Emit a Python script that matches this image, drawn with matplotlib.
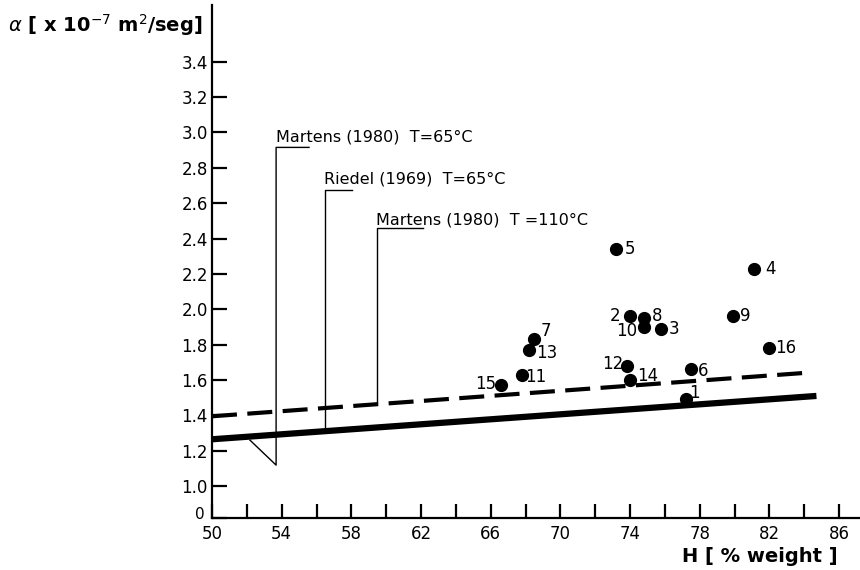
import matplotlib
matplotlib.use("Agg")
import matplotlib.pyplot as plt
import matplotlib.transforms as mtransforms

# ---- data ----
sample_ids = ["1", "2", "3", "4", "5", "6", "7", "8", "9", "10", "11", "12", "13", "14", "15", "16"]
moisture_h = [77.2, 74.0, 75.8, 81.1, 73.2, 77.5, 68.5, 74.8, 79.9, 74.8, 67.8, 73.8, 68.2, 74.0, 66.6, 82.0]
diffusivity = [1.49, 1.96, 1.89, 2.23, 2.34, 1.66, 1.83, 1.95, 1.96, 1.90, 1.63, 1.68, 1.77, 1.60, 1.57, 1.78]

# literature lines
martens110_x = [50.0, 84.0]
martens110_y = [1.395, 1.64]
martens65_x = [50.0, 84.7]
martens65_y = [1.265, 1.51]

x_major = [50, 54, 58, 62, 66, 70, 74, 78, 82, 86]
x_minor = [52, 56, 60, 64, 68, 72, 76, 80, 84]
y_ticks = [0.82, 1.0, 1.2, 1.4, 1.6, 1.8, 2.0, 2.2, 2.4, 2.6, 2.8, 3.0, 3.2, 3.4]
y_ticklabels = ["0", "1.0", "1.2", "1.4", "1.6", "1.8", "2.0", "2.2", "2.4", "2.6", "2.8", "3.0", "3.2", "3.4"]

# callouts: label, text anchor (x, baseline y), leader path
callout_labels = ["Martens (1980)  T=65°C", "Riedel (1969)  T=65°C", "Martens (1980)  T =110°C"]
callout_text_x = [53.68, 56.44, 59.43]
callout_text_y = [2.949, 2.710, 2.480]
callout_path_x = [[55.57, 53.68, 53.68, 52.18], [58.03, 56.49, 56.49], [62.13, 59.47, 59.47]]
callout_path_y = [[2.915, 2.915, 1.119, 1.26], [2.672, 2.672, 1.328], [2.458, 2.458, 1.469]]

# label offsets in pixels (style)
label_offsets = {
    "1": (9, 6), "2": (-15, 0), "3": (13, 0), "4": (17, 0), "5": (14, 0),
    "6": (12, -2), "7": (12, 8), "8": (13, 2), "9": (12, 0), "10": (-17, -4),
    "11": (14, -2), "12": (-14, 2), "13": (18, -3), "14": (18, 4), "15": (-15, 1),
    "16": (16, 0),
}

plt.rcParams["font.family"] = ["DejaVu Sans"]

fig = plt.figure(figsize=(8.6, 5.7), dpi=100)
ax = fig.add_axes([212 / 860, 52 / 570, 648 / 860, 513 / 570])
ax.set_xlim(50, 87.2)
ax.set_ylim(0.82, 3.72)

for s in ["top", "right"]:
    ax.spines[s].set_visible(False)
for s in ["left", "bottom"]:
    ax.spines[s].set_linewidth(1.6)
    ax.spines[s].set_color("black")

ax.set_xticks(x_major)
ax.set_xticks(x_minor, minor=True)
ax.set_xticklabels([str(v) for v in x_major], fontsize=12)
ax.set_yticks(y_ticks)
ax.set_yticklabels(y_ticklabels, fontsize=12)
ax.tick_params(axis="x", which="both", direction="in", length=10, width=1.6, pad=5)
ax.tick_params(axis="y", which="both", direction="in", length=11, width=1.6, pad=3)
ax.tick_params(axis="y", which="minor", left=False)

# nudge the "0" label up-left so it does not collide with "50"
zero_label = ax.get_yticklabels()[0]
zero_label.set_transform(zero_label.get_transform() +
                         mtransforms.ScaledTranslation(-3 / 100, 5 / 100, fig.dpi_scale_trans))
zero_label.set_fontsize(11)

# lines
ax.plot(martens110_x, martens110_y, color="black", lw=3.0, dashes=(6, 2.5), solid_capstyle="butt")
ax.plot(martens65_x, martens65_y, color="black", lw=4.5, solid_capstyle="butt")

# callouts
for lab, tx, ty, px, py in zip(callout_labels, callout_text_x, callout_text_y, callout_path_x, callout_path_y):
    ax.plot(px, py, color="black", lw=1.0)
    ax.text(tx, ty, lab, fontsize=11.5, ha="left", va="baseline")

# points
ax.plot(moisture_h, diffusivity, "o", color="black", markersize=8.5, linestyle="none")
for sid, hx, ay in zip(sample_ids, moisture_h, diffusivity):
    dx, dy = label_offsets[sid]
    ax.annotate(sid, (hx, ay), xytext=(dx, dy), textcoords="offset pixels",
                ha="center", va="center", fontsize=12)

# axis titles
fig.text(8 / 860, 1 - 25 / 570, r"$\alpha$ [ x 10$^{-7}$ m$^{2}$/seg]", fontsize=14,
         fontweight="bold", ha="left", va="center")
fig.text(838 / 860, 1 - 557 / 570, "H [ % weight ]", fontsize=14, fontweight="bold",
         ha="right", va="center")

fig.savefig("out.png", dpi=100)
